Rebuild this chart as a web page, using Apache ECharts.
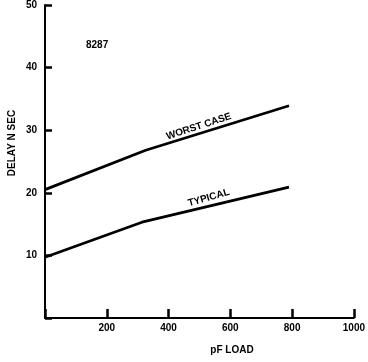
<!DOCTYPE html>
<html>
<head>
<meta charset="utf-8">
<script src="https://cdn.jsdelivr.net/npm/echarts@6/dist/echarts.min.js"></script>
<style>
  html, body { margin: 0; padding: 0; background: #fff; }
  #chart { width: 368px; height: 362px; }
</style>
</head>
<body>
<div id="chart"></div>
<script>
// pF load (x) and delay in ns (y)
const worstLoad = [0, 326, 790];
const worstDelay = [20.5, 26.8, 33.9];
const typicalLoad = [0, 314, 790];
const typicalDelay = [9.7, 15.3, 20.9];
const xTicks = [0, 200, 400, 600, 800, 1000];
const yTicks = [0, 10, 20, 30, 40, 50];
// curve captions: [load, delay, text]
const captions = [
  [498, 30.6, 'WORST CASE'],
  [530, 19.2, 'TYPICAL']
];

const font = '"Liberation Sans", Arial, sans-serif';
const ink = '#000';

function pairs(xs, ys) {
  return xs.map((x, i) => [x, ys[i]]);
}

let myChart = echarts.init(document.getElementById('chart'));

const option = {
  backgroundColor: '#fff',
  animation: false,
  grid: { left: 45, right: 10, top: 5, bottom: 44 },
  xAxis: {
    type: 'value',
    min: xTicks[0],
    max: xTicks[xTicks.length - 1],
    interval: 200,
    axisLine: { show: true, onZero: false, lineStyle: { color: ink, width: 2 } },
    axisTick: { show: true, inside: true, length: 9, lineStyle: { color: ink, width: 2.5 } },
    splitLine: { show: false },
    axisLabel: {
      margin: 5,
      color: ink,
      fontFamily: font,
      fontWeight: 'bold',
      fontSize: 10,
      formatter: v => (v === 0 ? '' : v)
    }
  },
  yAxis: {
    type: 'value',
    min: yTicks[0],
    max: yTicks[yTicks.length - 1],
    interval: 10,
    axisLine: { show: true, onZero: false, lineStyle: { color: ink, width: 2 } },
    axisTick: { show: true, inside: true, length: 7, lineStyle: { color: ink, width: 2.5 } },
    splitLine: { show: false },
    axisLabel: {
      margin: 8,
      color: ink,
      fontFamily: font,
      fontWeight: 'bold',
      fontSize: 10,
      formatter: v => (v === 0 ? '' : v)
    }
  },
  graphic: [
    {
      type: 'text', left: 86, top: 40,
      style: { text: '8287', font: 'bold 10px ' + font, fill: ink }
    },
    {
      type: 'text', x: 12, y: 143, rotation: Math.PI / 2,
      style: {
        text: 'DELAY N SEC', font: 'bold 10px ' + font, fill: ink,
        align: 'center', verticalAlign: 'middle'
      }
    },
    {
      type: 'text', x: 232, y: 350,
      style: {
        text: 'pF LOAD', font: 'bold 10px ' + font, fill: ink,
        align: 'center', verticalAlign: 'middle'
      }
    }
  ],
  series: [
    {
      name: 'WORST CASE',
      type: 'line',
      data: pairs(worstLoad, worstDelay),
      symbol: 'none',
      lineStyle: { color: ink, width: 2.8 },
      markPoint: {
        symbol: 'circle',
        symbolSize: 0,
        label: {
          show: true, position: 'inside', rotate: 18,
          color: ink, fontFamily: font, fontWeight: 'bold', fontSize: 10,
          formatter: p => p.name
        },
        data: [{ name: captions[0][2], coord: [captions[0][0], captions[0][1]] }]
      }
    },
    {
      name: 'TYPICAL',
      type: 'line',
      data: pairs(typicalLoad, typicalDelay),
      symbol: 'none',
      lineStyle: { color: ink, width: 2.8 },
      markPoint: {
        symbol: 'circle',
        symbolSize: 0,
        label: {
          show: true, position: 'inside', rotate: 16,
          color: ink, fontFamily: font, fontWeight: 'bold', fontSize: 10,
          formatter: p => p.name
        },
        data: [{ name: captions[1][2], coord: [captions[1][0], captions[1][1]] }]
      }
    }
  ]
};

myChart.setOption(option);
</script>
</body>
</html>
